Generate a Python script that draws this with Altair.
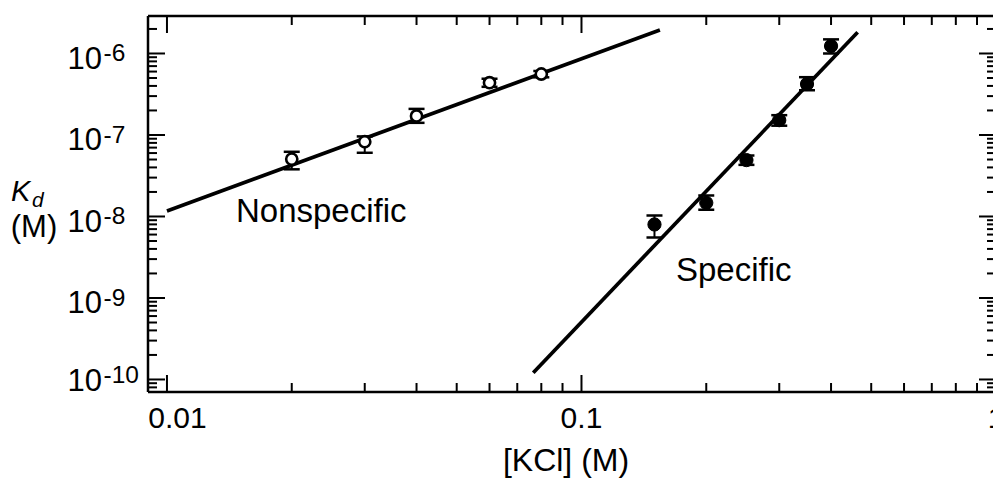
import altair as alt
import pandas as pd

# ---------------- data ----------------
# Nonspecific binding (open circles)
ns_kcl = [0.02, 0.03, 0.04, 0.06, 0.08]
ns_kd = [5.06e-8, 8.26e-8, 1.71e-7, 4.38e-7, 5.6e-7]
ns_lo = [3.79e-8, 6.05e-8, 1.41e-7, 3.9e-7, 5.1e-7]
ns_hi = [6.22e-8, 9.6e-8, 2.09e-7, 4.9e-7, 6.1e-7]

# Specific binding (filled circles)
sp_kcl = [0.15, 0.2, 0.25, 0.3, 0.35, 0.4]
sp_kd = [7.98e-9, 1.47e-8, 4.92e-8, 1.52e-7, 4.22e-7, 1.236e-6]
sp_lo = [5.53e-9, 1.21e-8, 4.3e-8, 1.30e-7, 3.54e-7, 1.0e-6]
sp_hi = [1.03e-8, 1.81e-8, 5.6e-8, 1.75e-7, 5.12e-7, 1.49e-6]

# Fitted lines (end points)
ns_fit_kcl = [0.01, 0.1546]
ns_fit_kd = [1.17e-8, 1.94e-6]
sp_fit_kcl = [0.0765, 0.4637]
sp_fit_kd = [1.21e-10, 1.82e-6]

# Axis ticks and labels
x_major = [0.01, 0.1, 1.0]
x_labels = ["0.01", "0.1", "1"]
x_minor = [0.02, 0.03, 0.04, 0.05, 0.06, 0.07, 0.08, 0.09,
           0.2, 0.3, 0.4, 0.5, 0.6, 0.7, 0.8, 0.9]
y_major = [1e-10, 1e-9, 1e-8, 1e-7, 1e-6]
y_exponents = ["-10", "-9", "-8", "-7", "-6"]
y_minor = [m * 10.0 ** e for e in range(-11, -5) for m in range(2, 10)]

# annotation texts and anchors (data coordinates)
ann_text = ["Nonspecific", "Specific"]
ann_kcl = [0.01467, 0.169]
ann_kd = [8.57e-9, 1.62e-9]

# ---------------- layout ----------------
W, H = 845, 376
PAD = {"left": 148, "top": 16, "right": 0, "bottom": 88}
FONT = "Liberation Sans"

xs = alt.Scale(type="log", domain=[0.009, 0.9835], nice=False)
ys = alt.Scale(type="log", domain=[7.02e-11, 2.884e-6], nice=False)

def X(f):
    return alt.X(f, type="quantitative", scale=xs, axis=None)

def Y(f):
    return alt.Y(f, type="quantitative", scale=ys, axis=None)

xmaj = pd.DataFrame({"x": x_major, "lab": x_labels})
xmin = pd.DataFrame({"x": x_minor})
ymaj = pd.DataFrame({"y": y_major, "e": y_exponents})
ymin = pd.DataFrame({"y": y_minor})

layers = []

# ----- inward ticks on all four sides -----
for df, ln in ((xmaj, 17), (xmin, 9)):
    layers.append(alt.Chart(df).mark_rule(color="black", strokeWidth=2, clip=True).encode(
        x=X("x"), y=alt.value(H), y2=alt.value(H - ln)))
    layers.append(alt.Chart(df).mark_rule(color="black", strokeWidth=2, clip=True).encode(
        x=X("x"), y=alt.value(0), y2=alt.value(ln)))
for df, ln in ((ymaj, 17), (ymin, 9)):
    layers.append(alt.Chart(df).mark_rule(color="black", strokeWidth=2, clip=True).encode(
        y=Y("y"), x=alt.value(0), x2=alt.value(ln)))
    layers.append(alt.Chart(df).mark_rule(color="black", strokeWidth=2, clip=True).encode(
        y=Y("y"), x=alt.value(W + 3), x2=alt.value(W + 3 - ln)))

# ----- frame (left, top, bottom) -----
one = pd.DataFrame({"k": [0]})
layers.append(alt.Chart(one).mark_rule(color="black", strokeWidth=2.5).encode(
    x=alt.value(0), y=alt.value(0), y2=alt.value(H)))
layers.append(alt.Chart(one).mark_rule(color="black", strokeWidth=2.5).encode(
    x=alt.value(0), x2=alt.value(W), y=alt.value(0)))
layers.append(alt.Chart(one).mark_rule(color="black", strokeWidth=2.5).encode(
    x=alt.value(0), x2=alt.value(W), y=alt.value(H)))

# ----- fitted lines -----
fit = pd.DataFrame({
    "x": ns_fit_kcl + sp_fit_kcl,
    "y": ns_fit_kd + sp_fit_kd,
    "s": ["ns"] * len(ns_fit_kcl) + ["sp"] * len(sp_fit_kcl),
})
layers.append(alt.Chart(fit).mark_line(color="black", strokeWidth=3.7, clip=True).encode(
    x=X("x"), y=Y("y"), detail="s:N"))

# ----- error bars -----
pts = pd.DataFrame({
    "x": ns_kcl + sp_kcl,
    "y": ns_kd + sp_kd,
    "lo": ns_lo + sp_lo,
    "hi": ns_hi + sp_hi,
    "s": ["ns"] * len(ns_kcl) + ["sp"] * len(sp_kcl),
})
layers.append(alt.Chart(pts).mark_rule(color="black", strokeWidth=2, opacity=1).encode(
    x=X("x"), y=Y("lo"), y2="hi:Q"))
for f in ("lo", "hi"):
    layers.append(alt.Chart(pts).mark_tick(color="black", orient="horizontal",
                                           size=16, thickness=2.5, opacity=1).encode(
        x=X("x"), y=Y(f)))

# ----- points -----
layers.append(alt.Chart(pts).transform_filter(alt.datum.s == "ns").mark_point(
    shape="circle", filled=True, fill="white", stroke="black", strokeWidth=2.6,
    size=125, opacity=1).encode(x=X("x"), y=Y("y")))
layers.append(alt.Chart(pts).transform_filter(alt.datum.s == "sp").mark_point(
    shape="circle", filled=True, fill="black", stroke="black", strokeWidth=1,
    size=175, opacity=1).encode(x=X("x"), y=Y("y")))

# ----- annotations -----
ann = pd.DataFrame({"x": ann_kcl, "y": ann_kd, "t": ann_text})
layers.append(alt.Chart(ann).mark_text(font=FONT, fontSize=33, align="left",
                                       baseline="alphabetic", color="black").encode(
    x=X("x"), y=Y("y"), text="t:N"))

# ----- x tick labels -----
layers.append(alt.Chart(xmaj).transform_filter(alt.datum.lab == "0.01").mark_text(
    font=FONT, fontSize=30, align="center", baseline="alphabetic", dx=10.5,
    color="black").encode(x=X("x"), y=alt.value(H + 36), text="lab:N"))
layers.append(alt.Chart(xmaj).transform_filter(alt.datum.lab != "0.01").mark_text(
    font=FONT, fontSize=30, align="center", baseline="alphabetic",
    color="black").encode(x=X("x"), y=alt.value(H + 36), text="lab:N"))

# ----- y tick labels: "10" with superscript exponent -----
for cond, shift in ((alt.datum.e != "-10", 0), (alt.datum.e == "-10", -4)):
    layers.append(alt.Chart(ymaj).transform_filter(cond).transform_calculate(
        base="'10'").mark_text(font=FONT, fontSize=31, align="right",
                               baseline="alphabetic", dy=15.5 + shift,
                               color="black").encode(
        y=Y("y"), x=alt.value(-46), text="base:N"))
    layers.append(alt.Chart(ymaj).transform_filter(cond).mark_text(
        font=FONT, fontSize=24.5, align="left", baseline="alphabetic",
        dx=1.5, dy=8 + shift, color="black").encode(
        y=Y("y"), x=alt.value(-46), text="e:N"))

# ----- axis titles -----
layers.append(alt.Chart(pd.DataFrame({"t": ["K"]})).mark_text(
    font=FONT, fontSize=29, fontStyle="italic", align="left", baseline="alphabetic",
    color="black").encode(x=alt.value(-137), y=alt.value(185), text="t:N"))
layers.append(alt.Chart(pd.DataFrame({"t": ["d"]})).mark_text(
    font=FONT, fontSize=21, fontStyle="italic", align="left", baseline="alphabetic",
    color="black").encode(x=alt.value(-116), y=alt.value(191), text="t:N"))
layers.append(alt.Chart(pd.DataFrame({"t": ["(M)"]})).mark_text(
    font=FONT, fontSize=31, align="center", baseline="alphabetic",
    color="black").encode(x=alt.value(-114), y=alt.value(221), text="t:N"))
layers.append(alt.Chart(pd.DataFrame({"t": ["[KCl] (M)"]})).mark_text(
    font=FONT, fontSize=32, align="center", baseline="alphabetic",
    color="black").encode(x=alt.value(566 - 148), y=alt.value(471 - 16), text="t:N"))

chart = alt.layer(*layers).properties(
    width=W, height=H, padding=PAD,
    autosize=alt.AutoSizeParams(type="none"),
    background="white",
).configure_view(strokeWidth=0)

chart.save("out.html", embed_options={"renderer": "svg", "actions": False})
